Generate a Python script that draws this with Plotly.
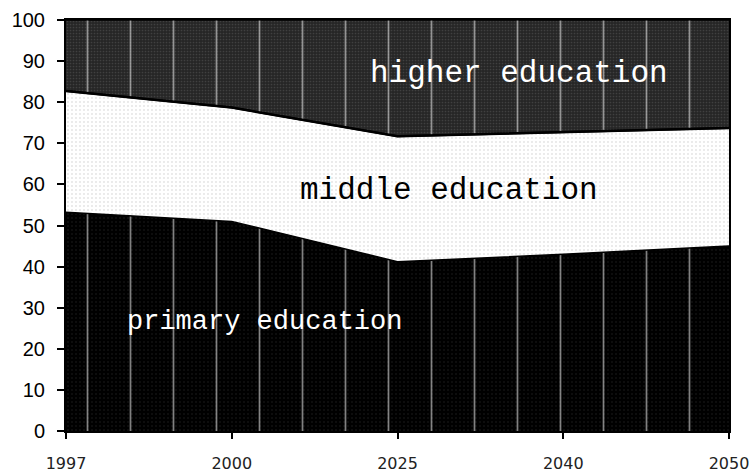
import numpy as np
import plotly.graph_objects as go

years = ["1997", "2000", "2025", "2040", "2050"]
primary = [53.2, 51.0, 41.2, 43.0, 45.0]
middle = [29.5, 27.7, 30.5, 29.7, 28.7]
higher = [17.3, 21.3, 28.3, 27.3, 26.3]
labels = ["primary education", "middle education", "higher education"]

p = np.array(primary)
pm = p + np.array(middle)
total = pm + np.array(higher)

mono = "Courier New, Liberation Mono, monospace"
fig = go.Figure()

# primary: black with faint grey dots
fig.add_trace(go.Scatter(x=years, y=p, mode="lines", fill="tozeroy",
    line=dict(color="black", width=1.5), fillcolor="black",
    fillpattern=dict(shape=".", fgcolor="#4a4a4a", bgcolor="black", size=4, solidity=0.08),
    hoverinfo="skip", showlegend=False))
# primary: white vertical lines overlay
fig.add_trace(go.Scatter(x=years, y=p, mode="lines", fill="tozeroy",
    line=dict(color="black", width=1.5), fillcolor="rgba(0,0,0,0)",
    fillpattern=dict(shape="|", fgcolor="white", bgcolor="rgba(0,0,0,0)", size=43, solidity=0.04),
    hoverinfo="skip", showlegend=False))
# middle: white with grey dots
fig.add_trace(go.Scatter(x=years, y=pm, mode="lines", fill="tonexty",
    line=dict(color="black", width=2), fillcolor="white",
    fillpattern=dict(shape=".", fgcolor="#8a8a8a", bgcolor="white", size=4, solidity=0.08),
    hoverinfo="skip", showlegend=False))
# higher: dark checker
fig.add_trace(go.Scatter(x=years, y=total, mode="lines", fill="tonexty",
    line=dict(color="black", width=1), fillcolor="#2e2e2e",
    fillpattern=dict(shape=".", fgcolor="#5a5a5a", bgcolor="#262626", size=3, solidity=0.25),
    hoverinfo="skip", showlegend=False))
# higher: white vertical lines overlay
fig.add_trace(go.Scatter(x=years, y=pm, mode="lines", line=dict(color="rgba(0,0,0,0)", width=0),
    hoverinfo="skip", showlegend=False))
fig.add_trace(go.Scatter(x=years, y=total, mode="lines", fill="tonexty",
    line=dict(color="black", width=1), fillcolor="rgba(0,0,0,0)",
    fillpattern=dict(shape="|", fgcolor="white", bgcolor="rgba(0,0,0,0)", size=43, solidity=0.04),
    hoverinfo="skip", showlegend=False))
# redraw middle top boundary
fig.add_trace(go.Scatter(x=years, y=pm, mode="lines", line=dict(color="black", width=2.5),
    hoverinfo="skip", showlegend=False))

fig.add_annotation(x=1.2, y=26.5, text=labels[0], showarrow=False,
                   font=dict(family=mono, size=27, color="white"))
fig.add_annotation(x=2.31, y=58.5, text=labels[1], showarrow=False,
                   font=dict(family=mono, size=31, color="black"))
fig.add_annotation(x=2.73, y=87, text=labels[2], showarrow=False,
                   font=dict(family=mono, size=31, color="white"))

fig.update_xaxes(type="category", range=[0, 4], showline=True, mirror=True,
                 linecolor="black", linewidth=2, ticks="outside", ticklen=6, tickwidth=2,
                 tickcolor="black", showgrid=False, zeroline=False, automargin=False,
                 tickfont=dict(family="DejaVu Sans, Verdana", size=16, color="#222"),
                 ticklabelstandoff=11)
fig.update_yaxes(range=[0, 100], dtick=10, showline=True, mirror=True,
                 linecolor="black", linewidth=2, ticks="outside", ticklen=7, tickwidth=2,
                 tickcolor="black", showgrid=False, zeroline=False, automargin=False,
                 tickfont=dict(family="Liberation Sans, Arial", size=20, color="black"),
                 ticklabelstandoff=8)
fig.update_layout(width=753, height=475, margin=dict(l=66, r=24, t=20, b=44),
                  plot_bgcolor="white", paper_bgcolor="white")
fig.write_html("out.html", config={"displayModeBar": False},
               post_script="document.body.style.margin='0';document.body.style.overflow='hidden';")
